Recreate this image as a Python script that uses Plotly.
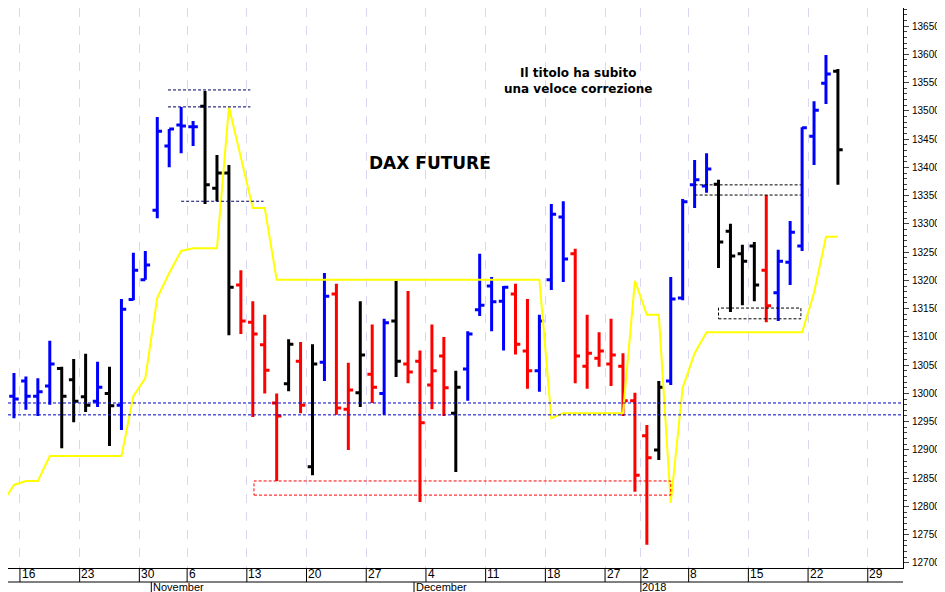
import plotly.graph_objects as go

# OHLC per seduta (indice 0 = 13 ott 2017), colore: b=blu, r=rosso, k=nero
opens = [12995, 13022, 12995, 13013, 13044, 13024, 12994, 12986, 13000, 12979,
         13166, 13201, 13324, 13438, 13475, 13472, 13508, 13363, 13390, 13192,
         13126, 13086, 12983, 13017, 13057, 12870, 13055, 13176, 12972, 13001,
         13034, 13000, 13128, 13052, 13057, 13015, 13066, 12965, 13043, 13148,
         13190, 13163, 13176, 13075, 13040, 13201, 13312, 13247, 13048, 13062,
         13052, 13048, 12987, 12925, 12900, 13022, 13169, 13369, 13367, 13370,
         13287, 13247, 13261, 13218, 13178, 13232, 13261, 13455, 13549, 13570]
highs = [13036, 13030, 13027, 13093, 13047, 13061, 13070, 13056, 13047, 13167,
         13249, 13252, 13489, 13468, 13507, 13482, 13535, 13422, 13404, 13218,
         13163, 13139, 13000, 13096, 13091, 13087, 13213, 13194, 13054, 13163,
         13122, 13132, 13199, 13181, 13076, 13122, 13100, 13040, 13110, 13247,
         13206, 13190, 13194, 13167, 13139, 13335, 13340, 13256, 13139, 13108,
         13132, 13071, 13001, 12944, 13022, 13206, 13344, 13413, 13425, 13378,
         13300, 13263, 13268, 13351, 13254, 13305, 13471, 13517, 13599, 13574]
lows = [12956, 12971, 12960, 12980, 12903, 12949, 12967, 12976, 12907, 12935,
        13165, 13201, 13310, 13400, 13425, 13438, 13335, 13340, 13103, 13105,
        12958, 13000, 12845, 13004, 12965, 12855, 13022, 12962, 12900, 12976,
        12983, 12962, 13029, 13018, 12808, 12972, 12960, 12861, 12987, 13137,
        13110, 13076, 13069, 13008, 13003, 13183, 13197, 13018, 13008, 13047,
        13013, 12960, 12826, 12732, 12882, 13015, 13165, 13328, 13355, 13222,
        13144, 13156, 13163, 13126, 13128, 13192, 13252, 13404, 13512, 13369]
closes = [12990, 12995, 13003, 13052, 12995, 12986, 12979, 13011, 12978, 13149,
          13218, 13227, 13464, 13468, 13473, 13472, 13369, 13390, 13188, 13128,
          13105, 13041, 12960, 13087, 12979, 13052, 13172, 12974, 13006, 13068,
          13011, 13125, 13057, 13038, 12948, 13040, 13010, 13011, 13105, 13156,
          13162, 13188, 13087, 13040, 13128, 13317, 13238, 13066, 13071, 13075,
          13068, 12987, 12855, 12886, 13011, 13167, 13339, 13378, 13397, 13268,
          13243, 13234, 13192, 13155, 13234, 13285, 13470, 13501, 13565, 13431]
colori = "bbbbkkkbkbbbbbbbkkkrrrrkrkbrrkrbkrrrrkbbbbrrbbbrrrrrrrkbbbbkkkkrbbbbbk"

# stop (linea gialla), indice -1 .. 69
stop = [12805, 12838, 12845, 12845, 12889, 12889, 12889, 12889, 12889, 12889, 12889,
        12995, 13027, 13169, 13213, 13252, 13257, 13257, 13257, 13507, 13420,
        13328, 13328, 13201, 13201, 13201, 13201, 13201, 13201, 13201, 13201,
        13201, 13201, 13201, 13201, 13201, 13201, 13201, 13201, 13201, 13201,
        13201, 13201, 13201, 13201, 13201, 12956, 12965, 12965, 12965, 12965,
        12965, 12965, 13199, 13139, 13139, 12806, 13010, 13071, 13108, 13108,
        13108, 13108, 13108, 13108, 13108, 13108, 13108, 13178, 13277, 13277]

tick_idx = [1, 6, 11, 15, 20, 25, 30, 35, 40, 45, 50, 53, 57, 62, 67, 72]
tick_txt = ["16", "23", "30", "6", "13", "20", "27", "4", "11", "18", "27", "2", "8", "15", "22", "29"]
mesi_idx = [12, 34, 53]
mesi_txt = ["November", "December", "2018"]

livelli_blu = [12983, 12962]
FONT = "DejaVu Sans"
DASH = "3px,2px"
PLOT_H = 560

fig = go.Figure()
col_map = {"b": "#0000ff", "r": "#ff0000", "k": "#000000"}
for c in "bkr":
    idx = [i for i, cc in enumerate(colori) if cc == c]
    fig.add_trace(go.Ohlc(
        x=idx, open=[opens[i] for i in idx], high=[highs[i] for i in idx],
        low=[lows[i] for i in idx], close=[closes[i] for i in idx],
        increasing_line_color=col_map[c], decreasing_line_color=col_map[c],
        line_width=3, tickwidth=0.4, showlegend=False, hoverinfo="skip"))

fig.add_trace(go.Scatter(x=list(range(-1, len(stop) - 1)), y=stop, mode="lines",
                         line=dict(color="#ffff00", width=2), showlegend=False))

shapes = []
for lv in livelli_blu:
    shapes.append(dict(type="line", xref="paper", x0=0, x1=1, y0=lv, y1=lv,
                       line=dict(color="#0000cc", width=1, dash=DASH)))
for x0, x1, lv in [(12.9, 19.8, 13537), (12.9, 19.8, 13507), (14, 20.9, 13340)]:
    shapes.append(dict(type="line", x0=x0, x1=x1, y0=lv, y1=lv,
                       line=dict(color="#000066", width=1, dash=DASH)))
for lv in [13369, 13351]:
    shapes.append(dict(type="line", x0=57, x1=65.9, y0=lv, y1=lv,
                       line=dict(color="#000000", width=1, dash=DASH)))
shapes.append(dict(type="rect", x0=20.1, x1=55, y0=12820, y1=12845,
                   line=dict(color="#ff0000", width=1, dash=DASH)))
shapes.append(dict(type="rect", x0=59, x1=65.9, y0=13132, y1=13151,
                   line=dict(color="#000000", width=1, dash=DASH)))

# righe sotto l'asse x (tabella date / mesi)
y_mid = -14 / PLOT_H
y_bot = -30 / PLOT_H
shapes.append(dict(type="line", xref="paper", yref="paper", x0=0, x1=1, y0=y_mid, y1=y_mid,
                   line=dict(color="black", width=1)))
for t in tick_idx:
    shapes.append(dict(type="line", yref="paper", x0=t - 0.5, x1=t - 0.5, y0=0, y1=y_mid,
                       line=dict(color="black", width=1)))
for m in mesi_idx:
    shapes.append(dict(type="line", yref="paper", x0=m - 0.5, x1=m - 0.5, y0=y_mid, y1=y_bot,
                       line=dict(color="black", width=1)))

annotations = [
    dict(x=34.8, y=13408, text="<b>DAX FUTURE</b>", showarrow=False,
         font=dict(family=FONT, size=17, color="black")),
    dict(x=47.2, y=13553, text="<b>Il titolo ha subito<br>una veloce correzione</b>",
         showarrow=False, font=dict(family=FONT, size=12, color="black")),
]
for m, t in zip(mesi_idx, mesi_txt):
    annotations.append(dict(x=m - 0.45, y=-19 / PLOT_H, yref="paper", text=t, showarrow=False,
                            xanchor="left", yanchor="middle", borderpad=0,
                            font=dict(family="Liberation Sans", size=11, color="black")))
for t, s in zip(tick_idx, tick_txt):
    annotations.append(dict(x=t - 0.45, y=-6 / PLOT_H, yref="paper", text=s, showarrow=False,
                            xanchor="left", yanchor="middle", borderpad=0,
                            font=dict(family="Liberation Sans", size=12, color="black")))

fig.update_layout(
    width=945, height=PLOT_H + 30, margin=dict(l=0, r=50, t=0, b=30),
    plot_bgcolor="white", paper_bgcolor="white",
    shapes=shapes, annotations=annotations,
    xaxis=dict(range=[-0.5, 74.45], tickvals=[t - 0.5 for t in tick_idx], showticklabels=False,
               showgrid=True, gridcolor="#d8d8f0", griddash="dash", gridwidth=1,
               rangeslider=dict(visible=False), showline=True, linecolor="black",
               zeroline=False),
    yaxis=dict(side="right", range=[12691, 13682], dtick=50, tickformat="d", showgrid=False,
               showline=True, linecolor="black", ticks="outside", ticklen=5,
               ticklabelstandoff=1,
               minor=dict(dtick=10, ticks="outside", ticklen=3),
               tickfont=dict(family="Liberation Sans", size=10, color="black"), zeroline=False),
)

fig.write_html("out.html")
